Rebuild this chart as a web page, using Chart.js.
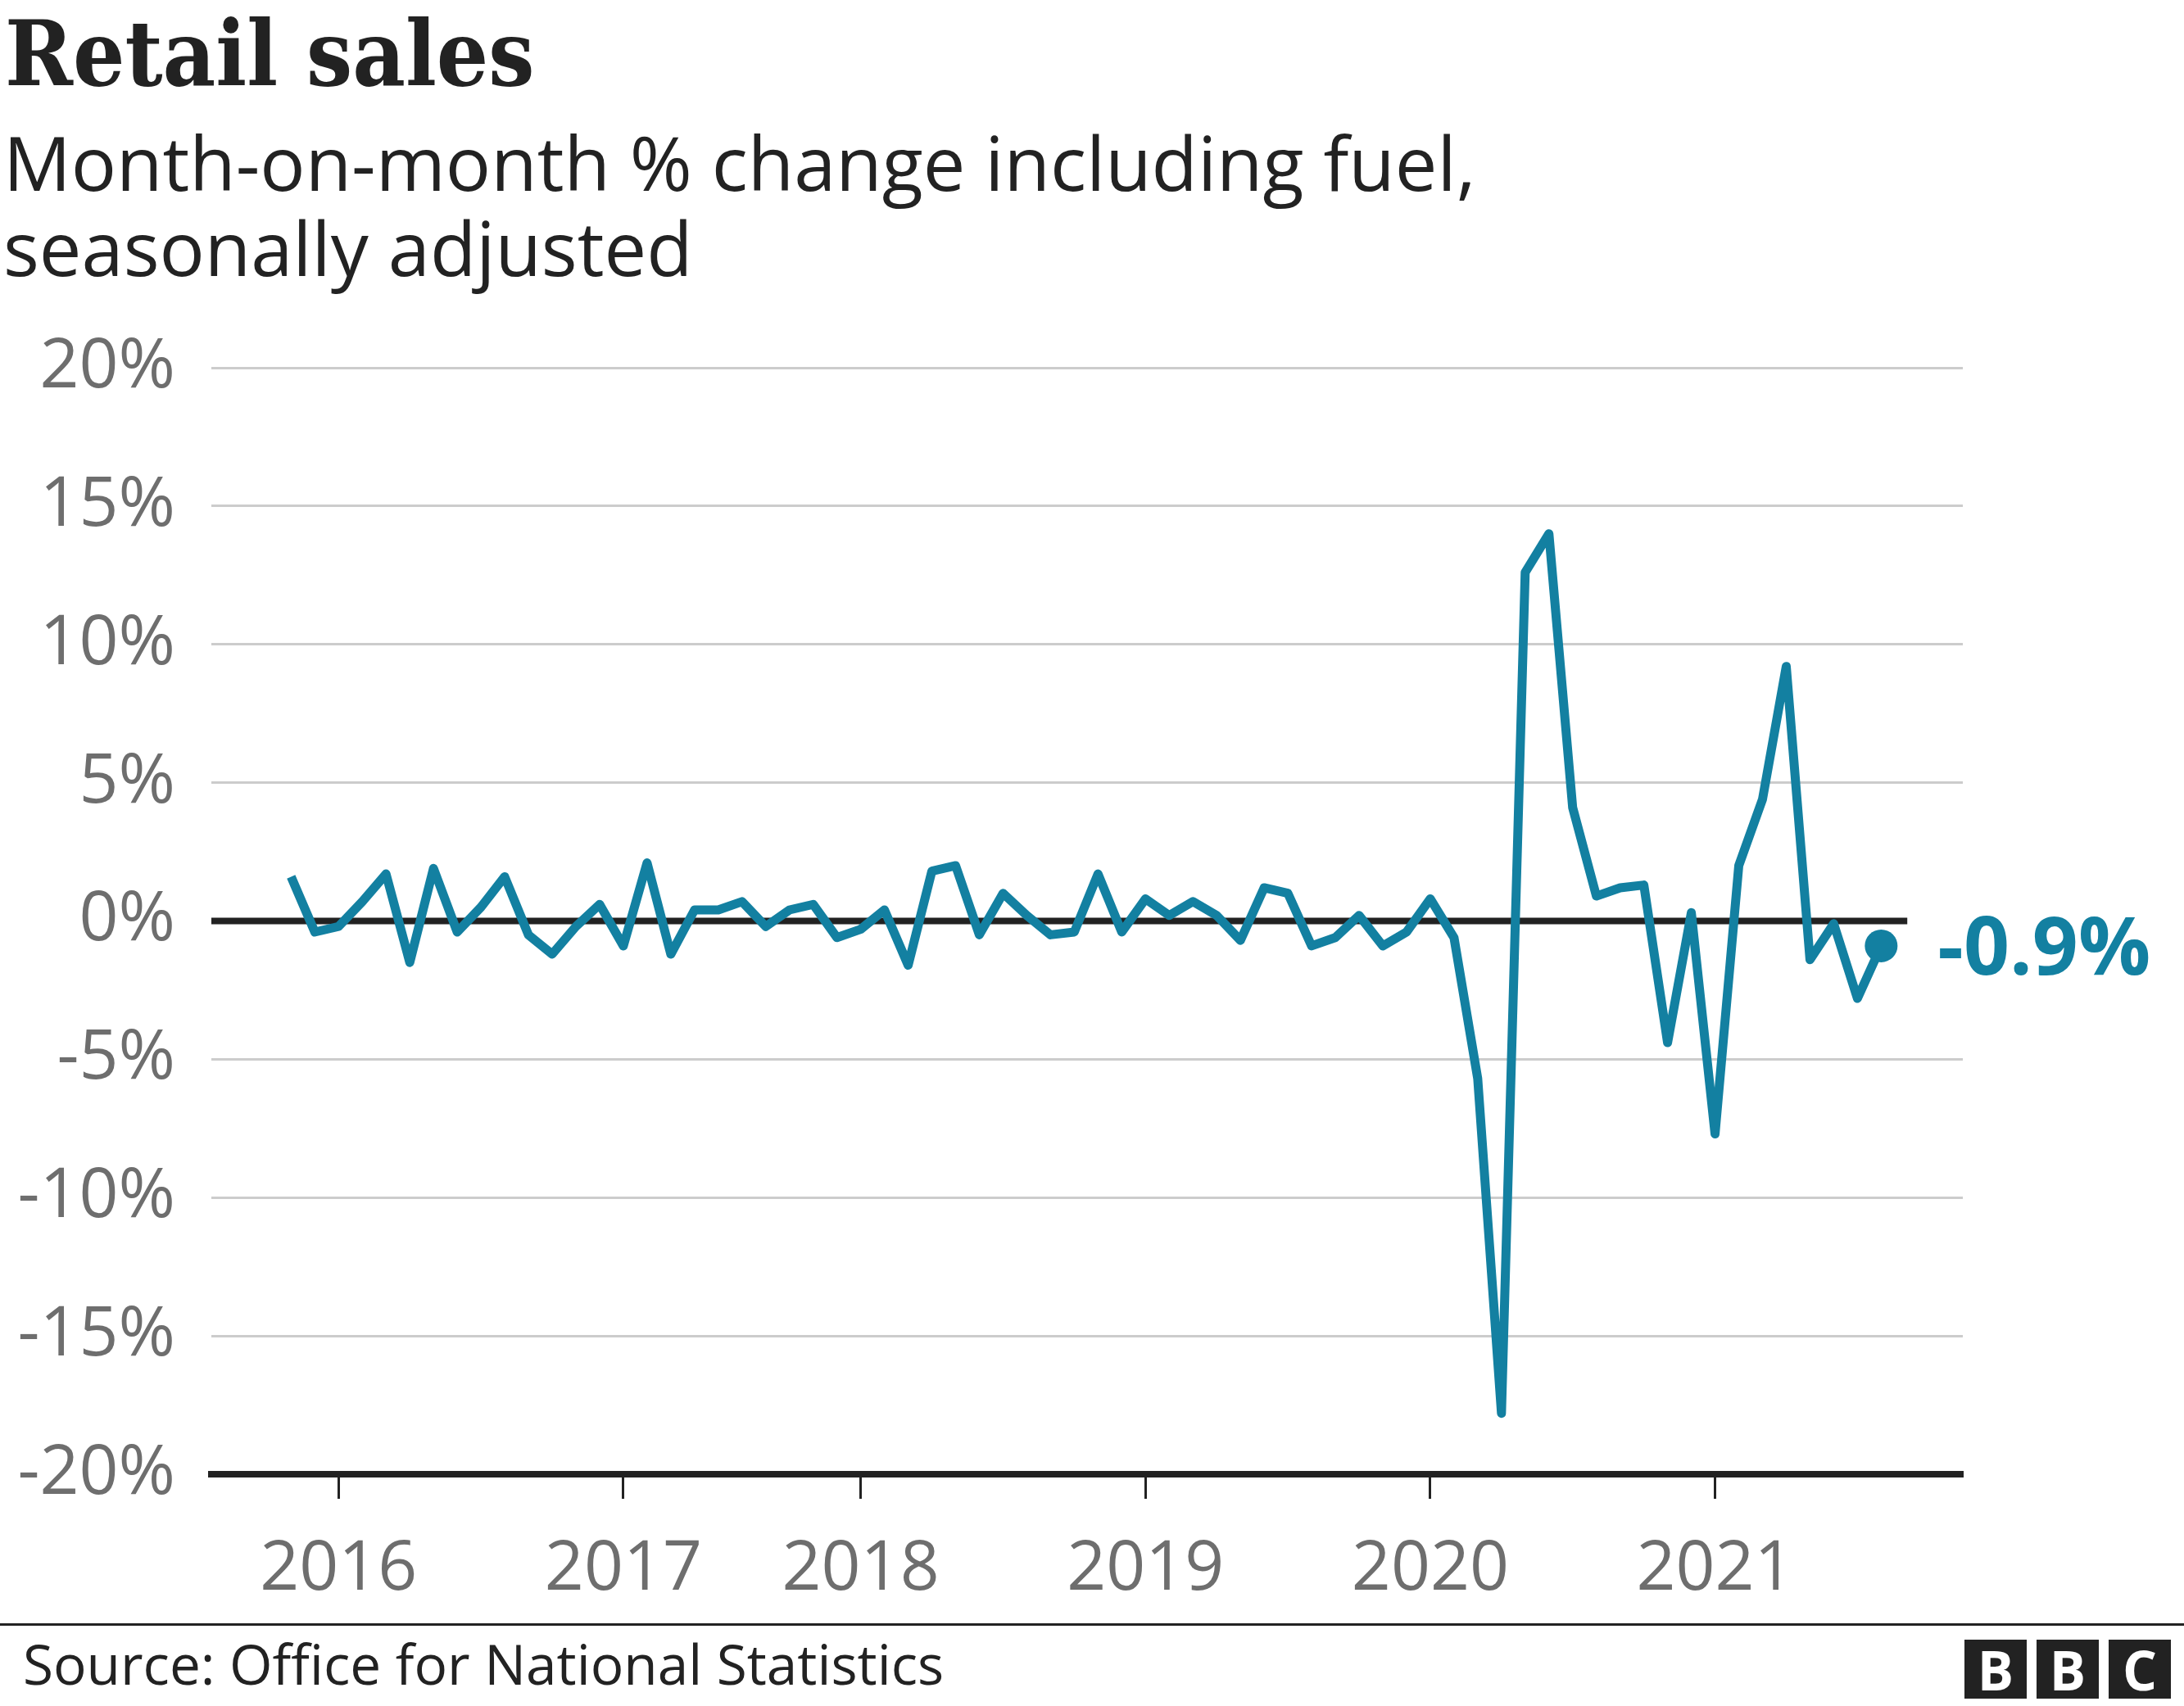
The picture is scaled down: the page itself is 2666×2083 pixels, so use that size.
<!DOCTYPE html>
<html>
<head>
<meta charset="utf-8">
<script src="https://cdn.jsdelivr.net/npm/chart.js@4.4.1/dist/chart.umd.min.js"></script>
<style>
  html, body { margin: 0; padding: 0; background: #fff; }
  body { width: 2666px; height: 2083px; position: relative; overflow: hidden; font-family: "Open Sans", sans-serif; color: #222; }
  #title { position: absolute; left: 6px; top: 10px; font-family: "DejaVu Serif Condensed", "DejaVu Serif", serif; font-stretch: condensed; font-weight: bold; font-size: 111px; line-height: 111px; white-space: nowrap; }
  #subtitle { position: absolute; left: 4px; top: 146px; font-size: 92px; line-height: 104px; white-space: nowrap; }
  #chart { position: absolute; left: 0; top: 0; }
  #rule { position: absolute; left: 0; top: 1982px; width: 2666px; height: 3px; background: #222; }
  #source { position: absolute; left: 28px; top: 1998px; font-size: 67.5px; line-height: 66px; white-space: nowrap; }
  #logo { position: absolute; left: 2398px; top: 2002px; display: flex; gap: 12px; }
  #logo span { width: 76px; height: 72px; background: #222; color: #fff; font-weight: bold; font-size: 66px; line-height: 72px; text-align: center; }
</style>
</head>
<body>
<div id="title">Retail sales</div>
<div id="subtitle">Month-on-month % change including fuel,<br>seasonally adjusted</div>
<canvas id="chart" width="2666" height="2083"></canvas>
<div id="rule"></div>
<div id="source">Source: Office for National Statistics</div>
<div id="logo"><span>B</span><span>B</span><span>C</span></div>

<script>
// monthly % change, Jan 2016 - Aug 2021
const startYear = 2016;
const monthNames = ['Jan','Feb','Mar','Apr','May','Jun','Jul','Aug','Sep','Oct','Nov','Dec'];
const values = [
  1.6, -0.4, -0.2, 0.7, 1.7, -1.5, 1.9, -0.4, 0.5, 1.6, -0.5, -1.2,
  -0.2, 0.6, -0.9, 2.1, -1.2, 0.4, 0.4, 0.7, -0.2, 0.4, 0.6, -0.6,
  -0.3, 0.4, -1.6, 1.8, 2.0, -0.5, 1.0, 0.2, -0.5, -0.4, 1.7, -0.4,
  0.8, 0.2, 0.7, 0.2, -0.7, 1.2, 1.0, -0.9, -0.6, 0.2, -0.9, -0.4,
  0.8, -0.6, -5.7, -17.8, 12.6, 14.0, 4.1, 0.9, 1.2, 1.3, -4.4, 0.3,
  -7.7, 2.0, 4.4, 9.2, -1.4, -0.1, -2.8, -0.9
];
const months = values.map((v, i) => monthNames[i % 12] + ' ' + (startYear + Math.floor(i / 12)));

const yearTickMonths = ['Mar 2016', 'Mar 2017', 'Jan 2018', 'Jan 2019', 'Jan 2020', 'Jan 2021'];
const yearTickLabels = ['2016', '2017', '2018', '2019', '2020', '2021'];

const teal = '#1380a1';
const lastIdx = values.length - 1;
const tickIdx = yearTickMonths.map(m => months.indexOf(m));

const zeroLine = {
  id: 'zeroLine',
  beforeDatasetsDraw(chart) {
    const ctx = chart.ctx;
    const x = chart.scales.x, y = chart.scales.y;
    const yy = y.getPixelForValue(0);
    ctx.save();
    ctx.strokeStyle = '#222';
    ctx.lineWidth = 8;
    ctx.beginPath();
    ctx.moveTo(chart.chartArea.left, yy);
    ctx.lineTo(x.getPixelForValue(lastIdx + 1.1), yy);
    ctx.stroke();
    ctx.restore();
  }
};

const endLabel = {
  id: 'endLabel',
  afterDatasetsDraw(chart) {
    const ctx = chart.ctx;
    const pt = chart.getDatasetMeta(0).data[lastIdx];
    ctx.save();
    ctx.font = 'bold 98px "Open Sans"';
    ctx.fillStyle = teal;
    ctx.textBaseline = 'alphabetic';
    ctx.fillText(values[lastIdx].toFixed(1) + '%', pt.x + 69, pt.y + 35);
    ctx.restore();
  }
};

const canvas = document.getElementById('chart');
new Chart(canvas.getContext('2d'), {
  type: 'line',
  data: {
    datasets: [{
      data: values.map((v, i) => ({ x: i, y: v })),
      borderColor: teal,
      borderWidth: 11,
      borderJoinStyle: 'round',
      tension: 0,
      pointRadius: ctx => ctx.dataIndex === lastIdx ? 20 : 0,
      pointBackgroundColor: teal,
      pointBorderWidth: 0,
      pointHoverRadius: 0
    }]
  },
  options: {
    responsive: false,
    animation: false,
    events: [],
    layout: { padding: { left: 0, right: 270, top: 449, bottom: 133 } },
    plugins: { legend: { display: false }, tooltip: { enabled: false } },
    scales: {
      x: {
        type: 'linear',
        min: -3.36,
        max: 70.44,
        afterBuildTicks: s => { s.ticks = tickIdx.map(v => ({ value: v })); },
        afterFit: s => { s.height = 150; },
        grid: { drawOnChartArea: false, drawTicks: true, tickLength: 30, tickColor: '#222', tickWidth: 3 },
        border: { display: true, color: '#222', width: 8 },
        ticks: {
          autoSkip: false,
          maxRotation: 0,
          padding: 37,
          color: '#6e6e6e',
          font: { family: 'Open Sans', size: 84 },
          callback: v => yearTickLabels[tickIdx.indexOf(v)]
        }
      },
      y: {
        min: -20,
        max: 20,
        afterFit: s => { s.width = 258; },
        grid: {
          drawTicks: false,
          lineWidth: 3,
          color: c => (c.tick && c.tick.value === 0) ? 'rgba(0,0,0,0)' : '#cccccc'
        },
        border: { display: false },
        ticks: {
          stepSize: 5,
          padding: 44,
          color: '#6e6e6e',
          font: { family: 'Open Sans', size: 84 },
          callback: v => v + '%'
        }
      }
    }
  },
  plugins: [zeroLine, endLabel]
});
</script>
</body>
</html>
